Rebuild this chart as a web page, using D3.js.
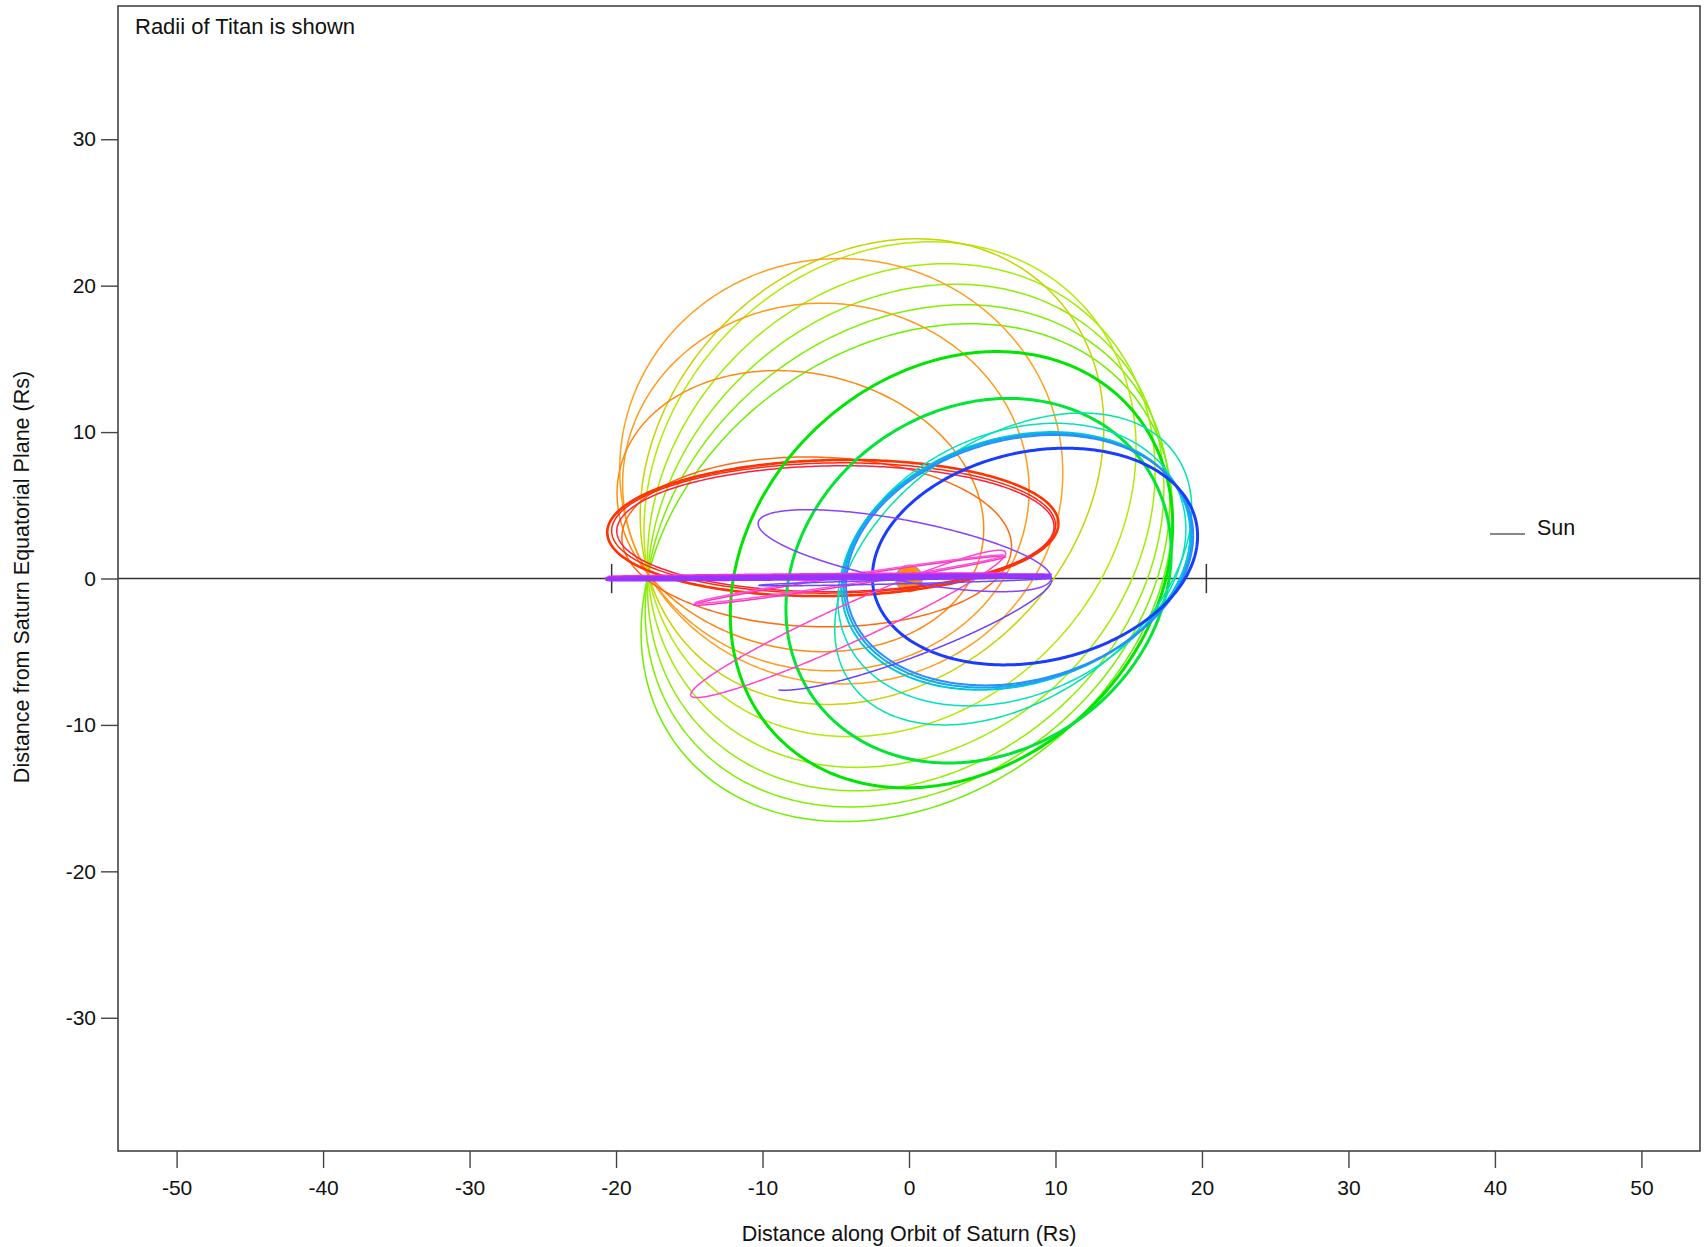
<!DOCTYPE html>
<html><head><meta charset="utf-8">
<script src="https://cdn.jsdelivr.net/npm/d3@7/dist/d3.min.js"></script>
<style>body{margin:0;background:#fff}svg text{font-family:"Liberation Sans",Arial,Helvetica,sans-serif;fill:#111}</style>
</head><body><svg id="c" width="1708" height="1247"></svg>
<script>
// ---------------- data (Saturn radii) ----------------
const xTicks = [-50,-40,-30,-20,-10,0,10,20,30,40,50];
const yTicks = [-30,-20,-10,0,10,20,30];
const xDomain = [-54, 54];
const yDomain = [-39.1, 39.1];
const titanNode = [-17.8, 0.3];        // common crossing point of the fan orbits
const titanRadius = 20.3;               // marks on the equatorial line
const saturnRadius = 0.9;

// each orbit: extreme extents and x of the highest point (xmin null = fitted through titanNode)
const orbitNames = ["yg5","yg4","yg3","yg2","yg1","olive","oc","ob","oa",
  "r4","r3","r2","r1","g1","g2","t1","t2","t3","t4","t5","b1",
  "m1","m2","m3","v1","v2","v3","magBand","purBand"];
const orbitXmin = [null,null,null,null,null,null,null,null,null,
  -19.6,-19.95,-20.3,-20.6,-12.2,-8.4,-5.07,-4.85,-4.6,-4.45,-4.3,-2.5,
  -14.9,-14.7,-14.6,-10.3,-10.25,-9.55,-20.5,-20.6];
const orbitXmax = [18.0,17.8,17.4,16.8,15.5,13.3,10.5,8.2,5.1,
  7.0,9.9,10.0,10.2,18.0,17.9,19.3,18.9,19.2,19.3,19.4,19.7,
  6.6,6.6,6.5,9.7,9.7,9.75,6.7,9.7];
const orbitYmin = [-16.6,-15.6,-14.5,-12.9,-10.8,-8.6,-7.2,-6.3,-5.0,
  -3.3,-0.9,-1.0,-1.2,-14.3,-12.6,-10.0,-8.7,-7.6,-7.45,-7.3,-5.9,
  -8.13,-1.83,-1.7,-0.9,-0.5,-7.63,0.1,-0.05];
const orbitYmax = [17.4,18.7,20.1,21.5,23.0,23.2,21.85,18.8,14.2,
  8.3,7.7,7.9,8.1,15.5,12.3,11.3,10.6,10.0,9.9,9.8,8.9,
  1.93,1.53,1.6,4.7,0.05,0.33,0.35,0.2];
const orbitXtop = [4.2,3.8,3.2,2.5,1.5,0.5,-4.75,-5.9,-9.0,
  -7.0,-4.5,-4.5,-4.2,6.0,6.8,11.8,10.0,9.8,9.8,9.9,10.7,
  6.17,6.4,6.3,-6.9,8.5,8.7,5.0,8.0];
// drawn part of the orbit in degrees of the ellipse parameter (full orbit = [0,360])
const orbitArc = {v3:[201,360]};

// ---------------- styles ----------------
const orbitColor = {yg5:"#6ef000",yg4:"#80f000",yg3:"#90ef00",yg2:"#a2ee00",yg1:"#b2ec00",
  olive:"#c6d400",oc:"#ffa020",ob:"#ff9a1a",oa:"#ff8a10",
  r4:"#ff6a10",r3:"#ff2040",r2:"#ff2a10",r1:"#ff3300",
  g1:"#00e600",g2:"#00e633",t1:"#00e6a8",t2:"#00e2c4",t3:"#00c8d8",t4:"#10a8f0",t5:"#2a8cff",b1:"#1a3cff",
  m1:"#ff44cc",m2:"#ff33bb",m3:"#ff55dd",v1:"#8a40ff",v2:"#6a4cff",v3:"#6a40ff",magBand:"#ff33cc",purBand:"#9a33ff"};
const orbitWidth = {g1:3,g2:3,b1:3,r1:2.6,purBand:4.5,magBand:2.5,t3:2,t4:2,t5:2};

const W=1708,H=1247;
const svg=d3.select("#c");
const x=d3.scaleLinear().domain(xDomain).range([118,1700]);
const y=d3.scaleLinear().domain(yDomain).range([1151,6]);

function ellipse(xmin,xmax,ymin,ymax,xtop,t0,t1,n){
  const cx=(xmin+xmax)/2,w=(xmax-xmin)/2,cy=(ymin+ymax)/2,h=(ymax-ymin)/2;
  let k=(xtop-cx)*h/w; k=Math.max(-h,Math.min(h,k));
  const m=Math.sqrt(h*h-k*k);
  return d3.range(n+1).map(i=>{const t=(t0+(t1-t0)*i/n)*Math.PI/180;
    return [cx+w*Math.cos(t),cy+k*Math.cos(t)+m*Math.sin(t)];});
}
function fitXmin(i){
  let best=null,bd=1e9;
  for(let xm=titanNode[0]-0.05;xm>titanNode[0]-9;xm-=0.02){
    const pts=ellipse(xm,orbitXmax[i],orbitYmin[i],orbitYmax[i],orbitXtop[i],0,360,720);
    let d=d3.min(pts,p=>Math.hypot(p[0]-titanNode[0],p[1]-titanNode[1]));
    if(d<bd){bd=d;best=xm;}
  }
  return best;
}

const clipId="plotclip";
svg.append("clipPath").attr("id",clipId).append("rect")
  .attr("x",x(xDomain[0])).attr("y",y(yDomain[1])).attr("width",x(xDomain[1])-x(xDomain[0])).attr("height",y(yDomain[0])-y(yDomain[1]));
const plot=svg.append("g").attr("clip-path",`url(#${clipId})`);

// equatorial line and Titan-orbit marks
plot.append("line").attr("x1",x(xDomain[0])).attr("x2",x(xDomain[1])).attr("y1",y(0)).attr("y2",y(0))
  .attr("stroke","#333").attr("stroke-width",1.5);
[-titanRadius,titanRadius].forEach(v=>plot.append("line").attr("x1",x(v)).attr("x2",x(v)).attr("y1",y(-1)).attr("y2",y(1))
  .attr("stroke","#333").attr("stroke-width",1.5));

// Saturn
plot.append("circle").attr("cx",x(0)).attr("cy",y(0)).attr("r",x(saturnRadius)-x(0))
  .attr("fill","#ff9500").attr("stroke","#a0a0a0").attr("stroke-width",1.5);

const line=d3.line().x(d=>x(d[0])).y(d=>y(d[1]));
orbitNames.forEach((nm,i)=>{
  const xmin=orbitXmin[i]===null?fitXmin(i):orbitXmin[i];
  const arc=orbitArc[nm]||[0,360];
  const pts=ellipse(xmin,orbitXmax[i],orbitYmin[i],orbitYmax[i],orbitXtop[i],arc[0],arc[1],400);
  plot.append("path").attr("d",line(pts)).attr("fill","none")
    .attr("stroke",orbitColor[nm]).attr("stroke-width",orbitWidth[nm]||1.5).attr("stroke-linejoin","round");
});

// frame
svg.append("rect").attr("x",x(xDomain[0])).attr("y",y(yDomain[1])).attr("width",x(xDomain[1])-x(xDomain[0])).attr("height",y(yDomain[0])-y(yDomain[1]))
  .attr("fill","none").attr("stroke","#444").attr("stroke-width",1.6);

// axes
const xa=svg.append("g").attr("transform",`translate(0,${y(yDomain[0])})`)
  .call(d3.axisBottom(x).tickValues(xTicks).tickSize(17).tickPadding(12).tickFormat(d3.format("d")));
const ya=svg.append("g").attr("transform",`translate(${x(xDomain[0])},0)`)
  .call(d3.axisLeft(y).tickValues(yTicks).tickSize(17).tickPadding(5).tickFormat(d3.format("d")));
[xa,ya].forEach(a=>{a.select(".domain").remove();a.selectAll(".tick line").attr("stroke","#444").attr("stroke-width",1.4);
  a.selectAll("text").attr("font-size",21).attr("font-family","Liberation Sans, Arial, sans-serif").attr("fill","#111");});
xa.selectAll("text").text(d=>String(d).replace("−","-"));
ya.selectAll("text").text(d=>String(d).replace("−","-"));

svg.append("text").attr("x",x(0)).attr("y",1241).attr("text-anchor","middle").attr("font-size",21.5)
  .text("Distance along Orbit of Saturn (Rs)");
svg.append("text").attr("transform","translate(29,577) rotate(-90)").attr("text-anchor","middle").attr("font-size",21.5)
  .text("Distance from Saturn Equatorial Plane (Rs)");
svg.append("text").attr("x",135).attr("y",34).attr("font-size",22).text("Radii of Titan is shown");

// legend
svg.append("line").attr("x1",1490).attr("x2",1525).attr("y1",534).attr("y2",534).attr("stroke","#888").attr("stroke-width",2);
svg.append("text").attr("x",1537).attr("y",535).attr("font-size",21.5).text("Sun");
</script></body></html>
